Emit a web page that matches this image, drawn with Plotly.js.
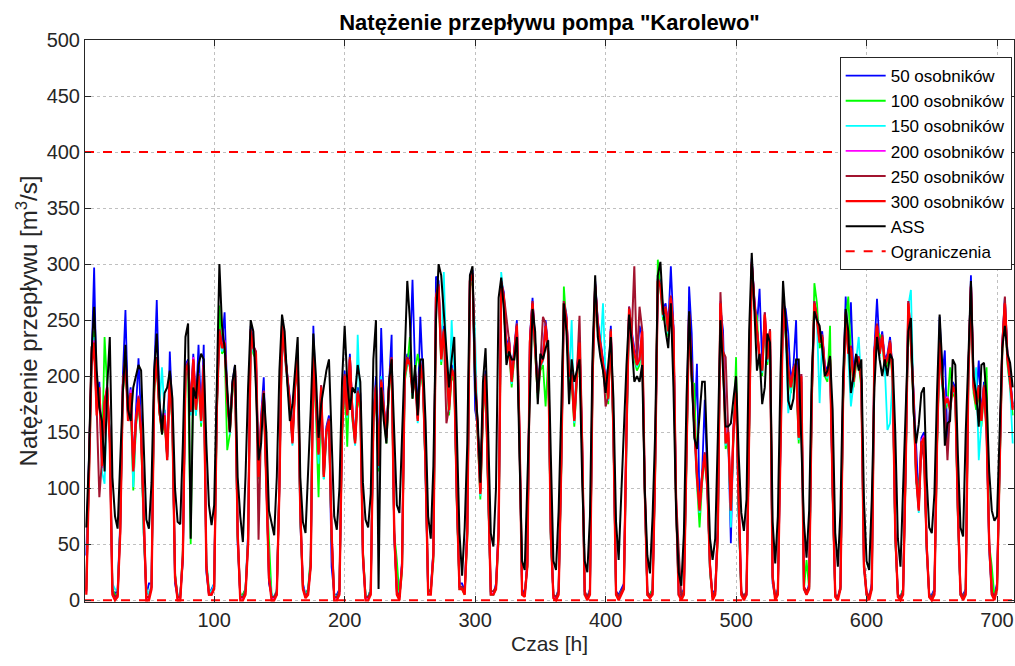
<!DOCTYPE html>
<html>
<head>
<meta charset="utf-8">
<script src="https://cdn.plot.ly/plotly-3.0.1.min.js"></script>
<style>html,body{margin:0;padding:0;background:#fff;}#chart{width:1015px;height:666px;}</style>
</head>
<body>
<div id="chart"></div>
<script>
// Hours: samples every 2 h from t = 2 to t = 712
const hourStart = 2, hourStep = 2;

const seriesNames = ["50 osobników","100 osobników","150 osobników","200 osobników","250 osobników","300 osobników","ASS"];
const constraintName = "Ograniczenia";
const limits = [0, 400];

const p50 = [
40,125,215,297,180,195,130,180,185,150,10,5,
10,70,200,259,170,190,120,165,216,160,60,5,
15,15,200,268,175,160,170,130,222,165,15,2,
5,35,210,215,175,220,175,228,165,228,25,5,
10,15,175,245,230,257,185,155,195,210,50,3,
5,10,60,245,230,215,115,165,199,120,15,5,
3,5,110,248,225,205,180,145,195,220,70,15,
5,10,35,245,175,135,185,115,155,165,30,5,
5,10,155,205,170,220,170,145,190,185,35,3,
3,10,165,200,125,243,175,150,200,237,55,10,
5,35,205,220,215,286,205,170,253,200,110,5,
10,45,289,285,220,245,215,175,210,205,85,15,
15,8,70,290,295,170,155,100,175,205,95,5,
5,15,65,285,275,225,235,200,225,250,140,10,
5,35,235,270,230,190,215,220,250,225,55,5,
3,10,125,268,255,205,205,165,205,235,135,5,
3,10,205,285,250,230,215,205,185,245,145,8,
5,10,15,155,262,240,225,215,245,235,95,5,
5,10,125,290,285,260,265,245,298,245,85,5,
5,10,140,280,238,150,211,85,115,179,105,25,
5,10,65,260,241,150,145,51,155,190,75,8,
3,5,155,305,270,245,278,210,250,220,235,15,
3,10,155,265,260,238,195,210,250,150,195,10,
5,15,185,265,255,235,240,210,205,220,95,5,
3,10,185,271,225,266,200,220,215,200,30,5,
3,15,225,269,225,240,215,220,235,205,55,5,
3,10,125,260,235,185,149,90,145,150,45,5,
5,10,145,253,200,223,140,175,195,190,75,5,
5,10,205,290,195,180,214,165,195,155,45,5,
5,15,125,230,270,220,200,175];

const p100 = [
10,115,205,240,175,185,125,235,185,145,10,5,
5,65,185,210,165,180,98,155,175,145,60,10,
5,12,185,210,168,148,160,128,195,155,25,2,
3,45,200,205,50,210,165,195,155,205,35,10,
5,12,165,263,220,225,134,148,185,200,55,5,
5,10,55,235,220,215,108,158,180,105,54,5,
3,8,105,240,223,200,170,145,190,210,75,10,
5,10,40,215,165,92,185,108,148,155,55,5,
3,8,145,195,137,210,160,140,180,170,45,5,
3,10,155,185,115,190,165,140,185,210,60,36,
3,25,195,210,235,180,205,220,205,190,115,10,
8,35,265,275,210,235,205,165,200,195,85,10,
10,5,55,280,285,195,145,90,165,195,95,5,
5,10,55,278,265,215,225,190,215,240,145,5,
5,30,225,260,220,180,205,210,173,215,55,5,
3,8,115,280,245,195,195,155,195,225,135,5,
3,8,195,275,240,220,205,195,175,235,145,5,
3,8,10,145,255,230,215,205,210,235,95,5,
5,10,115,304,275,250,255,235,265,235,85,5,
3,8,125,250,195,193,105,65,105,125,110,25,
3,8,55,260,215,135,145,75,145,217,75,5,
3,8,145,295,260,254,210,200,250,210,235,20,
3,8,145,255,235,200,185,200,205,140,195,10,
36,10,175,283,265,225,230,200,195,245,95,5,
3,10,175,250,271,220,190,210,210,190,35,5,
3,10,215,240,237,230,205,210,225,195,55,5,
3,10,115,260,225,175,105,98,135,140,50,5,
3,8,135,225,190,170,175,208,185,180,75,5,
3,8,195,275,185,170,185,155,185,208,50,30,
3,10,115,220,260,210,190,165];

const p150 = [
15,118,205,235,170,185,115,104,185,140,15,10,
8,65,190,220,160,180,101,155,178,150,65,10,
5,15,190,212,172,208,160,125,198,158,20,5,
5,40,205,208,165,212,165,198,158,208,35,8,
8,15,165,235,222,228,178,148,188,203,60,5,
3,8,50,238,222,218,110,155,183,112,25,5,
3,10,100,242,220,200,172,138,188,212,78,12,
5,8,30,218,168,122,188,108,148,158,60,5,
3,8,148,198,163,212,163,138,237,172,40,5,
3,10,158,188,118,200,168,143,188,212,60,10,
3,30,198,213,208,183,198,158,208,193,118,5,
8,40,268,280,213,293,208,168,250,198,88,10,
10,8,58,283,288,235,148,93,168,198,98,5,
5,12,58,293,268,218,228,193,218,243,148,5,
5,30,228,263,223,183,208,213,243,218,58,3,
3,8,118,263,248,198,250,158,198,228,138,5,
3,8,198,278,243,223,265,198,178,238,148,5,
3,8,10,148,258,233,218,208,213,238,98,5,
3,8,118,283,278,253,258,238,268,238,88,5,
3,8,128,253,198,148,104,78,108,128,98,28,
3,8,58,263,218,138,148,65,148,183,78,5,
3,8,148,298,263,238,213,203,253,213,238,18,
3,8,148,258,238,167,188,203,208,143,198,10,
5,10,178,263,248,176,233,203,198,213,98,5,
3,10,178,253,218,173,193,213,235,193,30,5,
3,10,218,243,218,233,208,152,158,198,58,5,
3,8,118,263,277,178,108,78,138,143,48,5,
3,8,138,228,193,173,178,168,188,183,78,5,
3,8,198,278,188,208,125,158,188,148,48,5,
3,10,118,223,263,213,190,140];

const p200 = [
7,122,215,232,168,186,118,178,192,144,6,2,
4,62,193,218,162,188,117,162,183,152,72,2,
2,12,193,217,172,152,167,127,203,162,22,2,
2,42,207,213,172,217,172,203,162,213,32,6,
6,12,172,242,227,232,182,152,192,207,62,2,
2,6,52,242,227,222,112,162,187,112,22,2,
2,6,102,247,222,202,177,142,192,217,82,12,
3,6,32,222,172,132,192,112,152,162,62,2,
2,6,152,202,167,217,167,142,187,177,42,2,
2,6,162,192,122,197,172,147,192,217,62,6,
2,32,202,217,212,187,202,162,212,197,122,6,
6,42,272,282,217,242,212,172,207,202,92,12,
12,6,62,287,292,202,152,97,172,202,102,6,
6,12,62,285,272,222,232,197,222,247,152,6,
4,32,232,267,227,187,212,217,247,222,62,3,
2,6,122,267,252,202,202,162,202,232,142,6,
2,6,202,282,247,227,212,202,182,242,152,6,
2,6,12,152,262,237,222,212,217,242,102,6,
3,6,122,287,282,257,262,242,272,242,92,6,
2,6,132,257,202,152,112,82,112,132,102,32,
2,6,62,267,222,142,152,82,152,187,82,6,
2,6,152,302,267,242,217,207,257,217,242,22,
2,6,152,262,242,207,192,207,212,147,202,12,
6,12,182,267,252,232,237,207,202,217,102,4,
2,12,182,257,222,227,197,217,217,197,32,6,
2,12,222,247,222,237,212,217,232,202,62,4,
2,6,122,267,232,182,112,82,142,147,52,4,
2,6,142,232,197,177,182,172,192,187,82,6,
2,6,202,282,192,177,192,162,192,152,52,6,
2,12,122,227,267,217,197,172];

const p250 = [
8,118,226,228,170,92,125,178,188,145,8,3,
5,62,192,218,165,183,118,158,182,148,68,3,
3,12,192,217,168,152,163,128,202,158,22,3,
3,38,207,212,168,213,172,202,162,208,32,5,
5,12,172,242,228,228,182,152,192,207,58,3,
3,8,52,242,227,222,54,158,187,112,22,3,
3,8,102,247,222,202,177,142,192,217,82,12,
3,8,32,222,172,132,192,112,152,162,58,3,
3,8,152,202,167,217,167,142,187,177,42,3,
3,8,162,192,122,197,172,147,192,217,62,8,
3,32,202,217,212,187,202,162,212,197,122,8,
8,42,272,282,217,242,158,172,207,202,92,12,
12,8,62,287,292,202,152,97,172,202,102,8,
8,12,62,285,272,254,232,197,222,247,152,8,
5,32,232,267,227,187,212,253,247,222,62,5,
3,8,122,267,252,202,202,162,202,254,142,8,
3,8,202,282,247,227,212,173,182,242,152,8,
3,8,12,152,262,237,298,212,262,242,102,8,
3,8,122,287,282,257,262,242,272,242,92,45,
3,8,132,257,202,152,112,82,112,132,102,32,
3,8,62,275,222,217,152,82,152,187,82,8,
3,8,152,302,267,242,217,207,257,217,242,22,
3,8,152,274,242,207,192,207,212,147,202,12,
8,12,182,267,252,232,237,207,202,217,102,5,
3,12,182,257,222,227,197,217,217,197,32,8,
3,12,222,247,222,237,212,217,232,202,62,5,
3,8,122,267,232,182,112,82,142,125,52,5,
3,8,142,232,197,177,125,172,192,187,82,8,
3,8,202,282,192,177,192,162,192,152,52,8,
3,12,122,227,271,217,197,172];

const p300 = [
5,120,210,230,165,190,120,175,190,140,5,0,
3,60,190,215,160,185,115,160,180,150,70,0,
0,10,190,215,170,150,165,125,200,160,20,0,
0,40,205,210,170,215,170,200,160,210,30,5,
5,10,170,240,225,230,180,150,190,205,60,0,
0,5,50,240,225,220,110,160,185,110,20,0,
0,5,100,245,220,200,175,140,190,215,80,10,
2,5,30,220,170,130,190,110,150,160,60,0,
0,5,150,200,165,215,165,140,185,175,40,0,
0,5,160,190,120,195,170,145,190,215,60,5,
0,30,200,215,210,185,200,160,210,195,120,5,
5,40,270,280,215,240,210,170,205,200,90,10,
10,5,60,285,290,200,150,95,170,200,100,5,
5,10,60,283,270,220,230,195,220,245,150,5,
3,30,230,265,225,185,210,215,245,220,60,2,
0,5,120,265,250,200,200,160,200,230,140,5,
0,5,200,280,245,225,210,200,180,240,150,5,
0,5,10,150,260,235,220,210,215,240,100,5,
2,5,120,285,280,255,260,240,270,240,90,5,
0,5,130,255,200,150,110,80,110,130,100,30,
0,5,60,265,220,140,150,80,150,185,80,5,
0,5,150,300,265,240,215,205,255,215,240,20,
0,5,150,260,240,205,190,205,210,145,200,10,
5,10,180,265,250,230,235,205,200,215,100,3,
0,10,180,255,220,225,195,215,215,195,30,5,
0,10,220,245,220,235,210,215,230,200,60,3,
0,5,120,265,230,180,110,80,140,145,50,3,
0,5,140,230,195,175,180,170,190,185,80,5,
0,5,200,280,190,175,190,160,190,150,50,5,
0,10,120,225,265,215,195,170];

const ass = [
65,125,220,262,205,172,160,115,190,235,110,75,
64,130,185,228,170,160,190,200,210,205,130,72,
64,105,205,238,180,148,185,190,205,180,100,70,
68,140,235,247,55,190,180,210,220,215,140,85,
67,85,190,300,245,225,190,150,195,210,110,75,
52,110,190,250,240,190,125,140,185,150,80,68,
58,110,205,255,240,195,160,175,205,235,110,70,
60,110,170,238,200,145,175,190,205,215,150,75,
63,100,195,245,195,170,190,185,210,195,105,72,
65,95,215,250,10,190,160,140,195,215,150,85,
78,150,230,285,250,180,210,165,215,215,160,75,
55,120,250,300,290,255,225,190,215,235,150,60,
22,65,140,290,298,190,160,105,195,225,150,60,
48,100,270,288,260,210,222,215,215,235,130,35,
27,110,200,260,240,175,220,215,225,232,130,35,
27,80,170,265,240,175,215,195,205,215,110,35,
25,75,220,290,235,217,205,185,210,235,180,70,
36,100,150,210,255,230,195,200,195,210,100,40,
24,75,150,290,302,260,240,225,265,190,80,25,
13,60,180,258,200,145,135,170,195,195,120,55,
36,55,145,250,205,155,155,158,180,200,130,78,
62,90,240,310,260,205,220,175,190,238,230,70,
33,75,200,285,250,178,170,180,215,215,140,70,
38,80,200,258,250,245,225,200,205,218,170,60,
30,80,200,260,240,185,200,220,205,215,90,35,
27,90,190,235,215,200,215,200,220,215,150,55,
30,100,175,240,252,168,140,157,185,190,110,65,
60,95,185,255,210,138,158,160,215,210,130,65,
57,150,215,285,200,185,155,210,212,180,115,80,
71,75,150,225,245,220,212,190];

const seriesValues = [p50, p100, p150, p200, p250, p300, ass];
const seriesColors = ["#0000ff","#00ff00","#00ffff","#ff00ff","#a2142f","#ff0000","#000000"];
const seriesWidths = [1.8, 1.8, 1.8, 1.8, 2, 2.3, 2];

const hours = p300.map((_, i) => hourStart + hourStep * i);
const xMin = 1, xMax = 713;

const traces = seriesValues.map((vals, k) => ({
  type: "scatter", mode: "lines", name: seriesNames[k],
  x: hours, y: vals,
  line: {color: seriesColors[k], width: seriesWidths[k]},
  hoverinfo: "skip"
}));

const cx = [], cy = [];
limits.forEach((v, i) => {
  if (i > 0) { cx.push(null); cy.push(null); }
  cx.push(xMin, xMax); cy.push(v, v);
});
traces.push({
  type: "scatter", mode: "lines", name: constraintName,
  x: cx, y: cy, connectgaps: false,
  line: {color: "#ff0000", width: 2, dash: "dash"},
  hoverinfo: "skip"
});

const fontFam = "Liberation Sans, Arial, sans-serif";
const axisCommon = {
  showline: true, linecolor: "#262626", linewidth: 1, mirror: "ticks",
  ticks: "inside", ticklen: 6, tickcolor: "#262626",
  showgrid: true, gridcolor: "#c0c0c0", griddash: "dot", gridwidth: 1,
  zeroline: false,
  tickfont: {family: fontFam, size: 20, color: "#262626"}
};

const layout = {
  width: 1015, height: 666,
  paper_bgcolor: "#ffffff", plot_bgcolor: "#ffffff",
  margin: {l: 85, r: 1, t: 40, b: 64, pad: 0},
  showlegend: true,
  title: {
    text: "<b>Natężenie przepływu pompa \"Karolewo\"</b>",
    font: {family: fontFam, size: 22, color: "#000000"},
    x: 0.5, xref: "paper", xanchor: "center",
    y: 1 - 22/666, yref: "container", yanchor: "middle"
  },
  xaxis: Object.assign({}, axisCommon, {
    range: [xMin, xMax],
    tickvals: [100,200,300,400,500,600,700],
    title: {text: "Czas [h]", font: {family: fontFam, size: 21, color: "#262626"}, standoff: 6}
  }),
  yaxis: Object.assign({}, axisCommon, {
    range: [-1.5, 500],
    tickvals: [0,50,100,150,200,250,300,350,400,450,500],
    title: {text: "Natężenie przepływu [m<sup>3</sup>/s]", font: {family: fontFam, size: 24, color: "#262626"}, standoff: 2}
  }),
  legend: {
    x: 0.9975, y: 0.9696, xanchor: "right", yanchor: "top",
    bgcolor: "#ffffff", bordercolor: "#262626", borderwidth: 1,
    font: {family: fontFam, size: 17, color: "#000000"},
    tracegroupgap: 0, itemwidth: 40
  }
};

Plotly.newPlot("chart", traces, layout, {staticPlot: true, displayModeBar: false});
</script>
</body>
</html>
